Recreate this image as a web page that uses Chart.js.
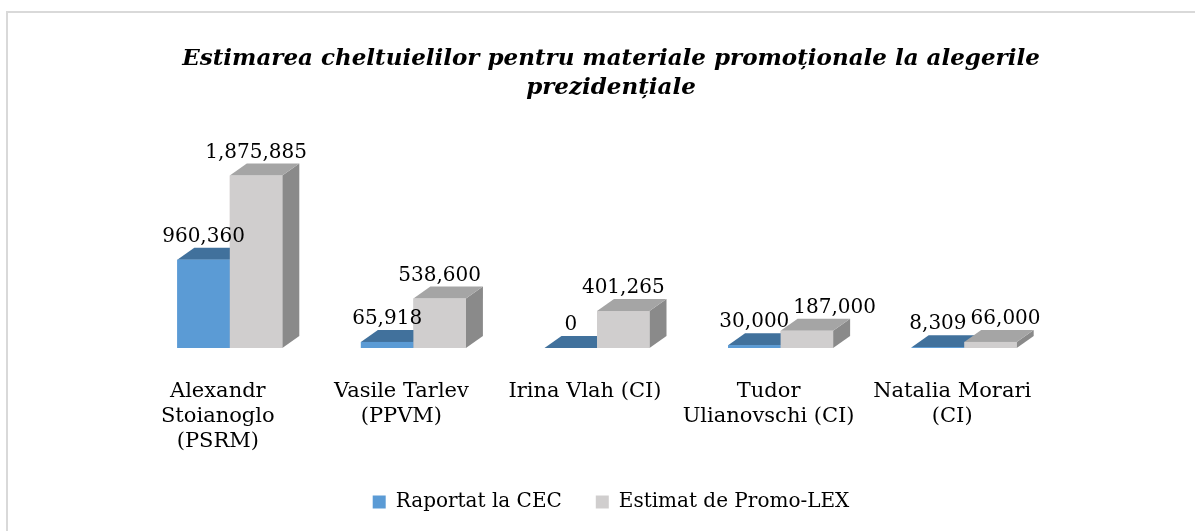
<!DOCTYPE html>
<html>
<head>
<meta charset="utf-8">
<script src="https://cdn.jsdelivr.net/npm/chart.js@4/dist/chart.umd.min.js"></script>
<style>
  html, body { margin: 0; padding: 0; background: #fff; overflow: hidden; width: 1195px; height: 531px; }
  #frame { position: absolute; left: 6px; top: 11px; width: 1300px; height: 600px; border: 2px solid #d9d9d9; box-sizing: border-box; }
  #chart { position: absolute; left: 0; top: 0; }
</style>
</head>
<body>
<div id="frame"></div>
<canvas id="chart" width="1222" height="531"></canvas>
<script>
const categories = [
  [ 'Alexandr', 'Stoianoglo', '(PSRM)' ],
  [ 'Vasile Tarlev', '(PPVM)' ],
  [ 'Irina Vlah (CI)' ],
  [ 'Tudor', 'Ulianovschi (CI)' ],
  [ 'Natalia Morari', '(CI)' ],
]
const seriesNames = [ 'Raportat la CEC', 'Estimat de Promo-LEX' ]
const raportatCEC = [ 960360, 65918, 0, 30000, 8309 ]
const estimatPromoLex = [ 1875885, 538600, 401265, 187000, 66000 ]

// 3d look: offset of the back faces
const depth = { dx: 17, dy: -12 }
const faces = [
  { front: '#5b9bd5', top: '#41719c', side: '#3b6590' },
  { front: '#d0cece', top: '#a5a5a5', side: '#8a8a8a' },
]

function poly( ctx, pts, color ) {
  ctx.beginPath()
  ctx.moveTo( pts[0][0], pts[0][1] )
  pts.slice( 1 ).forEach( ( p ) => ctx.lineTo( p[0], p[1] ) )
  ctx.closePath()
  ctx.fillStyle = color
  ctx.fill()
}

const bars3d = {
  id: 'bars3d',
  afterDatasetsDraw( chart ) {
    const ctx = chart.ctx
    const metas = chart.data.datasets.map( ( d, i ) => chart.getDatasetMeta( i ) )
    const { dx, dy } = depth
    ctx.save()
    categories.forEach( ( c, j ) => {
      metas.forEach( ( meta, i ) => {
        const { x, y, base, width } = meta.data[j].getProps( [ 'x', 'y', 'base', 'width' ], true )
        const l = x - width / 2
        const r = x + width / 2
        poly( ctx, [ [ r, y ], [ r + dx, y + dy ], [ r + dx, base + dy ], [ r, base ] ], faces[i].side )
        poly( ctx, [ [ l, y ], [ l + dx, y + dy ], [ r + dx, y + dy ], [ r, y ] ], faces[i].top )
        ctx.fillStyle = faces[i].front
        ctx.fillRect( l, y, width, base - y )
      } )
    } )

    // value labels, the second one moves right if it hits the first
    ctx.font = '20px "DejaVu Serif"'
    ctx.textAlign = 'center'
    ctx.textBaseline = 'middle'
    ctx.fillStyle = '#000'
    categories.forEach( ( c, j ) => {
      let prev = null
      metas.forEach( ( meta, i ) => {
        const bar = meta.data[j]
        const text = chart.data.datasets[i].data[j].toLocaleString( 'en-US' )
        const w = ctx.measureText( text ).width
        let cx = bar.x
        const cy = bar.y - 23
        if ( prev && Math.abs( prev.cy - cy ) < 17 && cx - w / 2 < prev.cx + prev.w / 2 ) {
          cx = prev.cx + prev.w / 2 + w / 2 + 4
        }
        ctx.fillText( text, cx, cy )
        prev = { cx, cy, w }
      } )
    } )
    ctx.restore()
  },
}

const font = { family: '"DejaVu Serif"', size: 21, lineHeight: '25px' }

new Chart( document.getElementById( 'chart' ), {
  type: 'bar',
  data: {
    labels: categories,
    datasets: [
      { label: seriesNames[0], data: raportatCEC, backgroundColor: faces[0].front, borderWidth: 0 },
      { label: seriesNames[1], data: estimatPromoLex, backgroundColor: faces[1].front, borderWidth: 0 },
    ],
  },
  options: {
    responsive: false,
    animation: false,
    devicePixelRatio: 1,
    categoryPercentage: 0.572,
    barPercentage: 1,
    layout: { padding: { top: 0, bottom: 9, left: 0, right: 0 } },
    plugins: {
      title: {
        display: true,
        text: [ 'Estimarea cheltuielilor pentru materiale promoționale la alegerile', 'prezidențiale' ],
        color: '#000',
        font: { family: '"DejaVu Serif"', size: 23, style: 'italic', weight: 'bold', lineHeight: '29px' },
        padding: { top: 45, bottom: 61 },
      },
      legend: {
        position: 'bottom',
        labels: {
          boxWidth: 13,
          boxHeight: 13,
          padding: 34,
          color: '#000',
          font: { family: '"DejaVu Serif"', size: 20 },
        },
      },
      tooltip: { enabled: false },
    },
    scales: {
      x: {
        grid: { display: false, drawTicks: false },
        border: { display: false },
        ticks: {
          color: '#000',
          font: font,
          padding: 31,
          labelOffset: -12,
          maxRotation: 0,
          autoSkip: false,
        },
        afterFit: ( s ) => { s.height = 110 },
      },
      y: {
        position: 'left',
        min: 0,
        max: 2000000,
        grid: { display: false, drawTicks: false },
        border: { display: false },
        ticks: { display: false },
        afterFit: ( s ) => { s.width = 138 },
      },
      y2: {
        type: 'linear',
        position: 'right',
        grid: { display: false, drawTicks: false },
        border: { display: false },
        ticks: { display: false },
        afterFit: ( s ) => { s.width = 166 },
      },
    },
  },
  plugins: [ bars3d ],
} )
</script>
</body>
</html>
